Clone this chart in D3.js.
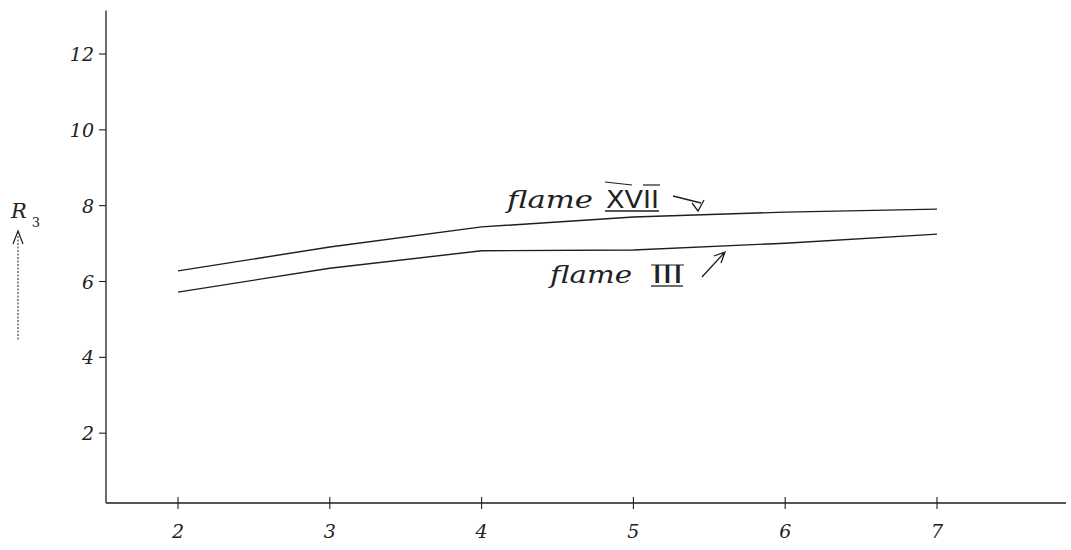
<!DOCTYPE html>
<html><head><meta charset="utf-8">
<script src="https://cdn.jsdelivr.net/npm/d3@7"></script>
<style>
html,body{margin:0;padding:0;background:#fff;}
svg{display:block;}
text{font-family:"DejaVu Serif","Liberation Serif",serif;font-style:italic;fill:#222;}
</style>
</head><body>
<svg id="c" width="1071" height="550"></svg>
<script>
// data
const xValues = [2, 3, 4, 5, 6, 7];
const flameXVII = [6.28, 6.91, 7.44, 7.70, 7.83, 7.91];
const flameIII = [5.72, 6.35, 6.81, 6.83, 7.01, 7.25];
const xTickLabels = ["2", "3", "4", "5", "6", "7"];
const yTickValues = [2, 4, 6, 8, 10, 12];
const yTickLabels = ["2", "4", "6", "8", "10", "12"];
const seriesNames = ["flame", "flame"];
const seriesNumerals = ["XVII", "III"];

const svg = d3.select("#c");
const x = d3.scaleLinear().domain([2, 7]).range([178, 937]);
const y = d3.scaleLinear().domain([0, 12]).range([509, 54]);

const ink = "#1e1e1e";
const axX = 106, axY = 503;

// axes lines
svg.append("line").attr("x1", axX).attr("x2", axX).attr("y1", y(13.15)).attr("y2", axY)
  .attr("stroke", ink).attr("stroke-width", 1.3);
svg.append("line").attr("x1", axX).attr("x2", 1066).attr("y1", axY).attr("y2", axY)
  .attr("stroke", ink).attr("stroke-width", 1.3);

// y ticks
yTickValues.forEach((v, i) => {
  svg.append("line").attr("x1", axX - 7).attr("x2", axX).attr("y1", y(v)).attr("y2", y(v))
    .attr("stroke", ink).attr("stroke-width", 1.1);
  svg.append("text").attr("x", 94).attr("y", y(v) + 7).attr("text-anchor", "end")
    .attr("font-size", 19).text(yTickLabels[i]);
});

// x ticks
xValues.forEach((v, i) => {
  svg.append("line").attr("x1", x(v)).attr("x2", x(v)).attr("y1", axY - 6).attr("y2", axY + 6)
    .attr("stroke", ink).attr("stroke-width", 1.1);
  svg.append("text").attr("x", x(v)).attr("y", 538).attr("text-anchor", "middle")
    .attr("font-size", 19).text(xTickLabels[i]);
});

// lines
const line = d3.line().x((d, i) => x(xValues[i])).y(d => y(d));
[flameXVII, flameIII].forEach(s => {
  svg.append("path").datum(s).attr("d", line).attr("fill", "none")
    .attr("stroke", ink).attr("stroke-width", 1.4);
});

// y label R3 with arrow
const lab = svg.append("text").attr("x", 11).attr("y", 218).attr("font-size", 21);
lab.append("tspan").text("R");
lab.append("tspan").attr("font-size", 13).attr("dx", 5).attr("dy", 9).style("font-style", "normal").text("3");
svg.append("line").attr("x1", 18).attr("x2", 18).attr("y1", 236).attr("y2", 340)
  .attr("stroke", ink).attr("stroke-width", 1).attr("stroke-dasharray", "2,1.5");
svg.append("path").attr("d", "M13,244 L18,231 L23,244").attr("fill", "none")
  .attr("stroke", ink).attr("stroke-width", 1.2);

// annotations
function label(name, num, fx, fw, nx, nw, base) {
  svg.append("text").attr("x", fx).attr("y", base).attr("font-size", 25)
    .attr("textLength", fw).attr("lengthAdjust", "spacingAndGlyphs").text(name);
  svg.append("text").attr("x", nx).attr("y", base).attr("font-size", 24)
    .style("font-style", "normal").style("font-family", "'DejaVu Sans', sans-serif")
    .attr("textLength", nw).attr("lengthAdjust", "spacingAndGlyphs").text(num);
  svg.append("line").attr("x1", nx - 1).attr("x2", nx + nw).attr("y1", base + 3).attr("y2", base + 3)
    .attr("stroke", ink).attr("stroke-width", 1.3);
}
label(seriesNames[0], seriesNumerals[0], 507, 86, 606, 53, 208);
label(seriesNames[1], seriesNumerals[1], 550, 82, 652, 31, 283);
// top bars of numerals
svg.append("line").attr("x1", 605).attr("x2", 632).attr("y1", 182).attr("y2", 185).attr("stroke", ink).attr("stroke-width", 1.2);
svg.append("line").attr("x1", 643).attr("x2", 660).attr("y1", 185).attr("y2", 185).attr("stroke", ink).attr("stroke-width", 1.2);
svg.append("line").attr("x1", 651).attr("x2", 684).attr("y1", 265).attr("y2", 265).attr("stroke", ink).attr("stroke-width", 1.2);
// arrows
svg.append("path").attr("d", "M673,196 L701,203 M692,203 L698,211 L704,200").attr("fill", "none")
  .attr("stroke", ink).attr("stroke-width", 1.3);
svg.append("path").attr("d", "M702,277 L725,252 M714,256 L725,252 L721,263").attr("fill", "none")
  .attr("stroke", ink).attr("stroke-width", 1.3);
</script>
</body></html>
